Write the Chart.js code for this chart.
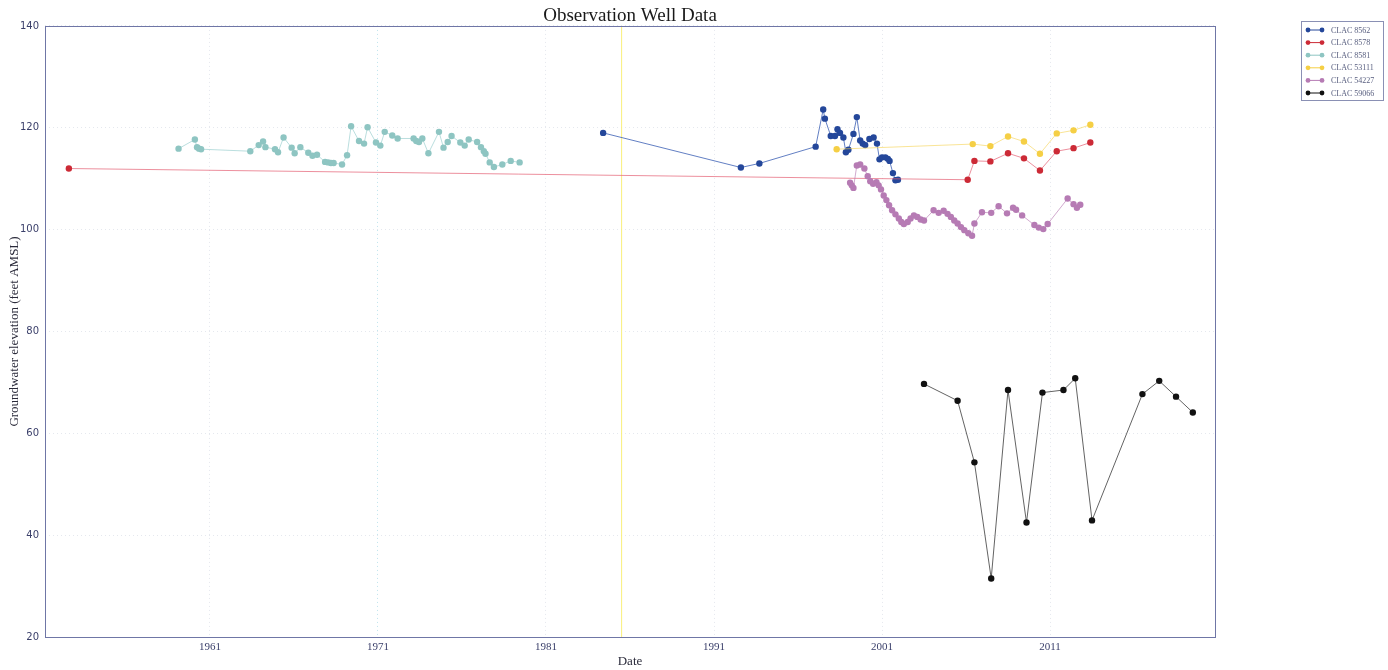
<!DOCTYPE html>
<html>
<head>
<meta charset="utf-8">
<title>Observation Well Data</title>
<script src="https://cdn.jsdelivr.net/npm/chart.js@4.4.0/dist/chart.umd.min.js"></script>
<style>
  body { margin: 0; background: #fff; }
  #wrap { width: 1388px; height: 670px; }
</style>
</head>
<body>
<div id="wrap"><canvas id="myChart" width="1388" height="670"></canvas></div>
<script>
// nombres de los pozos (leyenda)
const wellNames = ['CLAC 8562', 'CLAC 8578', 'CLAC 8581', 'CLAC 53111', 'CLAC 54227', 'CLAC 59066'];

// CLAC 8562 (azul)
const w8562Yr = [1984.4, 1992.6, 1993.7, 1997.05, 1997.5, 1997.6, 1997.95, 1998.2, 1998.35, 1998.5, 1998.7, 1998.85, 1999.0, 1999.3, 1999.5, 1999.7, 1999.85, 2000.0, 2000.25, 2000.5, 2000.7, 2000.85, 2001.0, 2001.2, 2001.35, 2001.45, 2001.65, 2001.8, 2001.95];
const w8562Ft = [119.0, 112.2, 113.0, 116.3, 123.6, 121.8, 118.4, 118.4, 119.7, 119.0, 118.1, 115.2, 115.7, 118.8, 122.1, 117.5, 116.9, 116.6, 117.8, 118.1, 116.9, 113.8, 114.2, 114.2, 113.9, 113.5, 111.1, 109.7, 109.8];

// CLAC 8578 (rojo)
const w8578Yr = [1952.6, 2006.1, 2006.5, 2007.45, 2008.5, 2009.45, 2010.4, 2011.4, 2012.4, 2013.4];
const w8578Ft = [112.0, 109.8, 113.5, 113.4, 115.0, 114.0, 111.6, 115.4, 116.0, 117.1];

// CLAC 8581 (verde agua)
const w8581Yr = [1959.13, 1960.1, 1960.23, 1960.35, 1960.47, 1963.4, 1963.9, 1964.16, 1964.3, 1964.87, 1965.05, 1965.38, 1965.86, 1966.04, 1966.38, 1966.85, 1967.1, 1967.37, 1967.85, 1968.03, 1968.2, 1968.36, 1968.86, 1969.16, 1969.4, 1969.87, 1970.17, 1970.38, 1970.88, 1971.14, 1971.4, 1971.85, 1972.17, 1973.12, 1973.28, 1973.44, 1973.64, 1974.0, 1974.63, 1974.9, 1975.15, 1975.38, 1975.9, 1976.16, 1976.4, 1976.9, 1977.13, 1977.3, 1977.4, 1977.65, 1977.9, 1978.4, 1978.9, 1979.43];
const w8581Ft = [115.9, 117.7, 116.2, 115.9, 115.8, 115.4, 116.6, 117.3, 116.2, 115.8, 115.2, 118.1, 116.1, 115.0, 116.2, 115.1, 114.5, 114.7, 113.3, 113.2, 113.1, 113.1, 112.8, 114.6, 120.3, 117.4, 116.9, 120.1, 117.1, 116.5, 119.2, 118.5, 117.9, 117.9, 117.4, 117.2, 117.9, 115.0, 119.2, 116.1, 117.2, 118.4, 117.1, 116.5, 117.7, 117.2, 116.2, 115.4, 114.9, 113.2, 112.3, 112.8, 113.5, 113.2];

// CLAC 53111 (amarillo)
const w53111Yr = [1998.3, 2006.4, 2007.45, 2008.5, 2009.45, 2010.4, 2011.4, 2012.4, 2013.4];
const w53111Ft = [115.8, 116.8, 116.4, 118.3, 117.3, 114.9, 118.9, 119.5, 120.6];

// CLAC 54227 (morado)
const w54227Yr = [1999.1, 1999.2, 1999.3, 1999.5, 1999.7, 1999.95, 2000.15, 2000.3, 2000.47, 2000.67, 2000.8, 2000.94, 2001.1, 2001.26, 2001.42, 2001.6, 2001.8, 2002.0, 2002.15, 2002.3, 2002.53, 2002.7, 2002.9, 2003.1, 2003.3, 2003.5, 2004.07, 2004.37, 2004.67, 2004.9, 2005.1, 2005.3, 2005.5, 2005.7, 2005.9, 2006.14, 2006.36, 2006.5, 2006.95, 2007.5, 2007.94, 2008.44, 2008.8, 2008.98, 2009.34, 2010.07, 2010.33, 2010.6, 2010.86, 2012.05, 2012.4, 2012.6, 2012.8];
const w54227Ft = [109.2, 108.7, 108.2, 112.6, 112.8, 112.0, 110.5, 109.5, 109.0, 109.3, 108.7, 107.9, 106.7, 105.8, 104.8, 103.8, 103.0, 102.2, 101.5, 101.1, 101.5, 102.2, 102.8, 102.5, 102.0, 101.8, 103.8, 103.3, 103.7, 103.1, 102.5, 101.8, 101.2, 100.5, 99.9, 99.3, 98.8, 101.2, 103.4, 103.3, 104.6, 103.2, 104.3, 103.9, 102.8, 100.9, 100.4, 100.1, 101.1, 106.1, 105.0, 104.3, 104.9];

// CLAC 59066 (negro)
const w59066Yr = [2003.5, 2005.5, 2006.5, 2007.5, 2008.5, 2009.6, 2010.55, 2011.8, 2012.5, 2013.5, 2016.5, 2017.5, 2018.5, 2019.5];
const w59066Ft = [69.7, 66.4, 54.3, 31.5, 68.5, 42.5, 68.0, 68.5, 70.8, 42.9, 67.7, 70.3, 67.2, 64.1];

// linea vertical amarilla que sale en la imagen
const yellowMarkYr = [1985.5, 1985.5];
const yellowMarkFt = [20, 140];

// ejes
const xTickYears = [1961, 1971, 1981, 1991, 2001, 2011];
const xMin = 1951.18, xMax = 2020.82;
const yMin = 20, yMax = 140, yStep = 20;

const lineColors = ['rgba(70,105,185,0.85)', 'rgba(228,95,115,0.7)', 'rgba(140,200,200,0.6)', 'rgba(245,210,80,0.6)', 'rgba(185,125,180,0.65)', 'rgba(60,60,60,0.8)'];
const dotColors = ['#24479a', '#cc2a36', '#8ec5c2', '#f5cf45', '#b67bb4', '#111111'];

function puntos(xs, ys) {
    return xs.map((x, i) => ({ x: x, y: ys[i] }));
}

const series = [
    [w8562Yr, w8562Ft],
    [w8578Yr, w8578Ft],
    [w8581Yr, w8581Ft],
    [w53111Yr, w53111Ft],
    [w54227Yr, w54227Ft],
    [w59066Yr, w59066Ft]
];

const datasets = series.map((s, i) => ({
    label: wellNames[i],
    data: puntos(s[0], s[1]),
    showLine: true,
    borderColor: lineColors[i],
    borderWidth: 1,
    backgroundColor: dotColors[i],
    pointBackgroundColor: dotColors[i],
    pointBorderWidth: 0,
    pointRadius: 3.2,
    order: 6 - i
}));

datasets.push({
    label: 'mark',
    data: puntos(yellowMarkYr, yellowMarkFt),
    showLine: true,
    borderColor: 'rgba(250,238,110,0.9)',
    borderWidth: 1,
    pointRadius: 0,
    order: 10,
    hideInLegend: true
});

// caja alrededor del area y leyenda a mano
const cajaYLeyenda = {
    id: 'cajaYLeyenda',
    afterDraw(chart) {
        const ctx = chart.ctx;
        const a = chart.chartArea;
        ctx.save();
        ctx.strokeStyle = '#6f76a6';
        ctx.lineWidth = 1;
        ctx.strokeRect(Math.round(a.left) + 0.5, Math.round(a.top) + 0.5, Math.round(a.right - a.left), Math.round(a.bottom - a.top));

        // leyenda
        const lx = 1301, ly = 21, lw = 82, lh = 79;
        ctx.fillStyle = '#fff';
        ctx.fillRect(lx, ly, lw, lh);
        ctx.strokeStyle = '#8a90b4';
        ctx.strokeRect(lx + 0.5, ly + 0.5, lw, lh);
        ctx.font = '8px "Liberation Serif", serif';
        ctx.textBaseline = 'middle';
        let y = 30;
        chart.data.datasets.forEach((ds, i) => {
            if (ds.hideInLegend) return;
            ctx.strokeStyle = dotColors[i];
            ctx.lineWidth = 1;
            ctx.beginPath();
            ctx.moveTo(1308, y);
            ctx.lineTo(1322, y);
            ctx.stroke();
            ctx.fillStyle = dotColors[i];
            [1308, 1322].forEach(px => {
                ctx.beginPath();
                ctx.arc(px, y, 2.4, 0, Math.PI * 2);
                ctx.fill();
            });
            ctx.fillStyle = '#5a6080';
            ctx.fillText(ds.label, 1331, y + 0.5);
            y += 12.6;
        });
        ctx.restore();
    }
};

const config = {
    type: 'scatter',
    data: { datasets: datasets },
    options: {
        responsive: false,
        animation: false,
        devicePixelRatio: 1,
        layout: { padding: { left: 0, right: 173, top: 0, bottom: 0 } },
        plugins: {
            legend: { display: false },
            tooltip: { enabled: false },
            title: {
                display: true,
                text: 'Observation Well Data',
                fullSize: false,
                color: '#1a1a1a',
                font: { family: '"Liberation Serif", serif', size: 19, weight: 'normal', lineHeight: 1.05 },
                padding: { top: 6, bottom: 0 }
            }
        },
        scales: {
            x: {
                type: 'linear',
                min: xMin,
                max: xMax,
                afterFit: s => { s.height = 33; },
                afterBuildTicks: axis => { axis.ticks = xTickYears.map(v => ({ value: v })); },
                ticks: {
                    callback: v => String(v),
                    color: '#3a3f6a',
                    font: { family: '"Liberation Serif", serif', size: 11 },
                    padding: 4,
                    maxRotation: 0
                },
                grid: {
                    drawTicks: false,
                    color: c => (c.tick && c.tick.value === 1971) ? 'rgba(150,210,225,0.6)' : 'rgba(180,190,205,0.35)',
                    lineWidth: 1
                },
                border: { display: false, dash: [1, 3] },
                title: {
                    display: true,
                    text: 'Date',
                    color: '#2a2a3a',
                    font: { family: '"Liberation Serif", serif', size: 13 },
                    padding: { top: 0, bottom: 1 }
                }
            },
            y: {
                min: yMin,
                max: yMax,
                afterFit: s => { s.width = 45; },
                ticks: {
                    stepSize: yStep,
                    color: '#3a3f6a',
                    font: { family: '"DejaVu Sans", sans-serif', size: 10 },
                    padding: 6
                },
                grid: {
                    drawTicks: false,
                    color: 'rgba(180,190,205,0.35)',
                    lineWidth: 1
                },
                border: { display: false, dash: [1, 3] },
                title: {
                    display: true,
                    text: 'Groundwater elevation (feet AMSL)',
                    color: '#2a2a3a',
                    font: { family: '"Liberation Serif", serif', size: 13 },
                    padding: { top: 7, bottom: 0 }
                }
            }
        }
    },
    plugins: [cajaYLeyenda]
};

const myChart = new Chart(document.getElementById('myChart'), config);
</script>
</body>
</html>
